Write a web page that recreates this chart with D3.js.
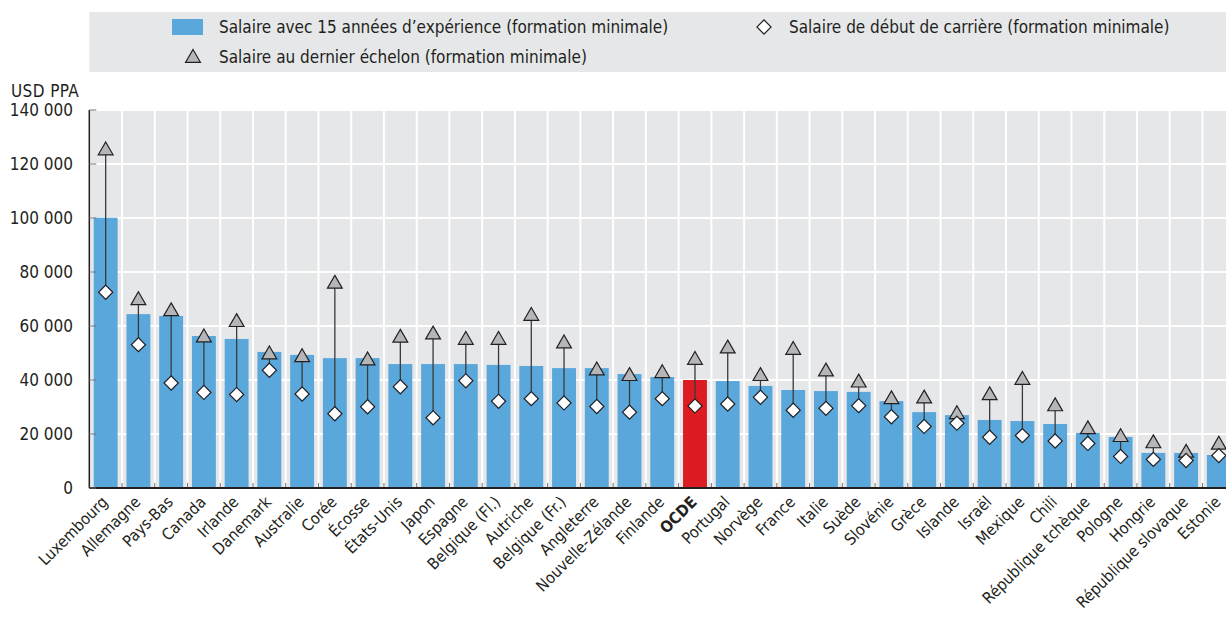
<!DOCTYPE html>
<html>
<head>
<meta charset="utf-8">
<script src="https://cdn.jsdelivr.net/npm/d3@7"></script>
<style>
  body { margin: 0; background: #fff; }
  svg text { font-family: "Liberation Sans Narrow", "Arial Narrow", "DejaVu Sans Condensed", sans-serif; fill: #231f20; }
</style>
</head>
<body>
<div id="chart"></div>
<script>
// Countries, in the order shown
const countries = ["Luxembourg", "Allemagne", "Pays-Bas", "Canada", "Irlande", "Danemark", "Australie",
  "Corée", "Écosse", "États-Unis", "Japon", "Espagne", "Belgique (Fl.)", "Autriche", "Belgique (Fr.)",
  "Angleterre", "Nouvelle-Zélande", "Finlande", "OCDE", "Portugal", "Norvège", "France", "Italie", "Suède",
  "Slovénie", "Grèce", "Islande", "Israël", "Mexique", "Chili", "République tchèque", "Pologne", "Hongrie",
  "République slovaque", "Estonie"];

// Salaire avec 15 années d'expérience (bars)
const salary15 = [100100, 64400, 63700, 56300, 55200, 50400, 49300, 48100, 48100, 45900, 45900, 45900,
  45600, 45200, 44400, 44400, 42200, 41100, 40000, 39600, 37800, 36300, 35900, 35600, 32200, 28100,
  27000, 25200, 24800, 23700, 20400, 18900, 13000, 13000, 12200];

// Salaire au dernier échelon (triangles)
const salaryTop = [125000, 69500, 65400, 55700, 61400, 49400, 48400, 75600, 47200, 55600, 56800, 54800,
  54800, 63700, 53500, 43500, 41400, 42500, 47400, 51600, 41400, 51100, 43100, 39000, 32800, 33100,
  27300, 34300, 40000, 30200, 21700, 18800, 16500, 13000, 16000];

// Salaire de début de carrière (diamonds)
const salaryStart = [72500, 53100, 38900, 35400, 34600, 43600, 34800, 27500, 30100, 37500, 26000, 39700,
  32100, 33100, 31500, 30200, 28100, 33100, 30400, 31100, 33600, 28800, 29500, 30500, 26400, 22800,
  24000, 18800, 19400, 17400, 16500, 11700, 10600, 10200, 12000];

const yTicks = [0, 20000, 40000, 60000, 80000, 100000, 120000, 140000];

const legendLabels = ["Salaire avec 15 années d’expérience (formation minimale)",
  "Salaire de début de carrière (formation minimale)",
  "Salaire au dernier échelon (formation minimale)"];

const width = 1226;
const height = 619;
const plot = {left: 89.3, right: 1235.2, top: 110, bottom: 488};

const blue = "#5aa7db";
const red = "#dc1c22";
const panel = "#e6e7e9";

const data = countries.map((c, i) => ({
  country: c, mid: salary15[i], top: salaryTop[i], start: salaryStart[i]
}));

const svg = d3.select("#chart")
  .append("svg")
  .attr("width", width)
  .attr("height", height);

const fr = d3.formatLocale({decimal: ",", thousands: " ", grouping: [3], currency: ["", ""]});
const fmt = fr.format(",");

const x = d3.scaleBand()
  .domain(countries)
  .range([plot.left, plot.right])
  .paddingInner(0.27)
  .paddingOuter(0.135);

const y = d3.scaleLinear()
  .domain([0, 140000])
  .range([plot.bottom, plot.top]);

const step = x.step();
const gap = step - x.bandwidth();

// Plot background
svg.append("rect")
  .attr("x", plot.left)
  .attr("y", y(140000))
  .attr("width", plot.right - plot.left)
  .attr("height", y(0) - y(140000))
  .attr("fill", panel);

// Horizontal grid
svg.append("g")
  .selectAll("line")
  .data(yTicks.filter(d => d > 0))
  .join("line")
  .attr("x1", plot.left)
  .attr("x2", plot.right)
  .attr("y1", d => y(d))
  .attr("y2", d => y(d))
  .attr("stroke", "#fff")
  .attr("stroke-width", 2);

// Vertical grid at band boundaries
svg.append("g")
  .selectAll("line")
  .data(countries.slice(0, -1))
  .join("line")
  .attr("x1", d => x(d) + x.bandwidth() + gap / 2)
  .attr("x2", d => x(d) + x.bandwidth() + gap / 2)
  .attr("y1", y(140000))
  .attr("y2", y(0))
  .attr("stroke", "#fff")
  .attr("stroke-width", 2);

// Bars
svg.append("g")
  .selectAll("rect")
  .data(data)
  .join("rect")
  .attr("x", d => x(d.country))
  .attr("y", d => y(d.mid))
  .attr("width", x.bandwidth())
  .attr("height", d => y(0) - y(d.mid))
  .attr("fill", d => d.country === "OCDE" ? red : blue);

// Small ticks at band boundaries on the x axis
svg.append("g")
  .selectAll("line")
  .data(countries.slice(0, -1))
  .join("line")
  .attr("x1", d => x(d) + x.bandwidth() + gap / 2)
  .attr("x2", d => x(d) + x.bandwidth() + gap / 2)
  .attr("y1", y(0) - 5)
  .attr("y2", y(0))
  .attr("stroke", "#6d6e70")
  .attr("stroke-width", 1);

// Connector lines
svg.append("g")
  .selectAll("line")
  .data(data)
  .join("line")
  .attr("x1", d => x(d.country) + x.bandwidth() / 2)
  .attr("x2", d => x(d.country) + x.bandwidth() / 2)
  .attr("y1", d => y(d.start))
  .attr("y2", d => y(d.top))
  .attr("stroke", "#3a3a3c")
  .attr("stroke-width", 1.3);

const tri = d3.symbol(d3.symbolTriangle, 95);
const dia = d3.symbol(d3.symbolSquare, 100);

svg.append("g")
  .selectAll("path")
  .data(data)
  .join("path")
  .attr("d", tri)
  .attr("transform", d => `translate(${x(d.country) + x.bandwidth() / 2},${y(d.top)})`)
  .attr("fill", "#b5b6b8")
  .attr("stroke", "#231f20")
  .attr("stroke-width", 1.2);

svg.append("g")
  .selectAll("path")
  .data(data)
  .join("path")
  .attr("d", dia)
  .attr("transform", d => `translate(${x(d.country) + x.bandwidth() / 2},${y(d.start)}) rotate(45)`)
  .attr("fill", "#fff")
  .attr("stroke", "#231f20")
  .attr("stroke-width", 1.2);

// Axis lines
svg.append("line")
  .attr("x1", plot.left).attr("x2", plot.left)
  .attr("y1", y(140000)).attr("y2", y(0))
  .attr("stroke", "#231f20").attr("stroke-width", 1.5);

svg.append("line")
  .attr("x1", plot.left).attr("x2", width)
  .attr("y1", y(0)).attr("y2", y(0))
  .attr("stroke", "#231f20").attr("stroke-width", 2.2);

// Y ticks and labels
const yAxis = svg.append("g");
yAxis.selectAll("line")
  .data(yTicks)
  .join("line")
  .attr("x1", plot.left)
  .attr("x2", plot.left + 7)
  .attr("y1", d => y(d))
  .attr("y2", d => y(d))
  .attr("stroke", "#6d6e70")
  .attr("stroke-width", 1);

yAxis.selectAll("text")
  .data(yTicks)
  .join("text")
  .attr("x", 73)
  .attr("y", d => y(d))
  .attr("dy", "0.36em")
  .attr("text-anchor", "end")
  .style("font-size", "17px")
  .text(d => fmt(d));

svg.append("text")
  .attr("x", 11)
  .attr("y", 97)
  .style("font-size", "17px")
  .style("letter-spacing", "0.4px")
  .text("USD PPA");

// X labels
svg.append("g")
  .selectAll("text")
  .data(countries)
  .join("text")
  .attr("transform", d => `translate(${x(d) + x.bandwidth() / 2 + 3},${y(0) + 15}) rotate(-45)`)
  .attr("text-anchor", "end")
  .style("font-size", "16px")
  .style("font-weight", d => d === "OCDE" ? "bold" : "normal")
  .text(d => d);

// Legend
const legend = svg.append("g");
legend.append("rect")
  .attr("x", plot.left)
  .attr("y", 12)
  .attr("width", width - plot.left)
  .attr("height", 60)
  .attr("fill", panel);

legend.append("rect")
  .attr("x", 172).attr("y", 19)
  .attr("width", 31).attr("height", 16)
  .attr("fill", blue);

legend.append("text")
  .attr("x", 219).attr("y", 27).attr("dy", "0.36em")
  .style("font-size", "17px")
  .text(legendLabels[0]);

legend.append("path")
  .attr("d", dia)
  .attr("transform", "translate(764,27) rotate(45)")
  .attr("fill", "#fff")
  .attr("stroke", "#231f20")
  .attr("stroke-width", 1.2);

legend.append("text")
  .attr("x", 789).attr("y", 27).attr("dy", "0.36em")
  .style("font-size", "17px")
  .text(legendLabels[1]);

legend.append("path")
  .attr("d", tri)
  .attr("transform", "translate(193,58)")
  .attr("fill", "#b5b6b8")
  .attr("stroke", "#231f20")
  .attr("stroke-width", 1.2);

legend.append("text")
  .attr("x", 219).attr("y", 57).attr("dy", "0.36em")
  .style("font-size", "17px")
  .text(legendLabels[2]);
</script>
</body>
</html>
